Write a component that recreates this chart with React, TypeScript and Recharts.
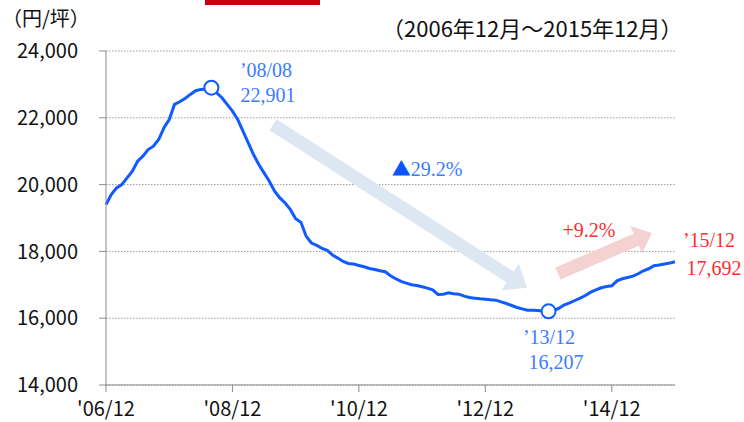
import { CartesianGrid, Line, LineChart, ReferenceDot, ReferenceLine, XAxis, YAxis } from 'recharts';

// monthly average price (yen / tsubo), 2006/12 .. 2015/12
const prices = [
  19400, 19700, 19900, 20000, 20200, 20400, 20700, 20850, 21050, 21150, 21350, 21700,
  21950, 22400, 22480, 22580, 22700, 22810, 22850, 22860, 22901, 22750, 22600, 22400,
  22200, 21950, 21600, 21250, 20900, 20600, 20350, 20100, 19800, 19600, 19450, 19250,
  18980, 18870, 18450, 18250, 18180, 18090, 18030, 17890, 17800, 17700, 17640, 17620,
  17580, 17540, 17490, 17460, 17420, 17390, 17270, 17180, 17100, 17050, 17000, 16980,
  16940, 16900, 16850, 16710, 16720, 16760, 16730, 16720, 16660, 16620, 16600, 16580,
  16570, 16550, 16540, 16490, 16440, 16380, 16320, 16280, 16240, 16240, 16230, 16210,
  16207, 16230, 16300, 16400, 16460, 16530, 16600, 16680, 16780, 16850, 16910, 16950,
  16970, 17120, 17180, 17220, 17260, 17330, 17420, 17480, 17570, 17590, 17620, 17650,
  17692,
];

const xTicks = [0, 24, 48, 72, 96];
const xTickLabels = ["'06/12", "'08/12", "'10/12", "'12/12", "'14/12"];
const yTicks = [14000, 16000, 18000, 20000, 22000, 24000];

const peakIdx = 20;
const troughIdx = 84;

// arrow annotations [month index, value]
const downArrow = [[31.7, 21790], [79.9, 16910]];
const upArrow = [[85.8, 17340], [103.6, 18550]];

const data = prices.map((v, i) => ({ m: i, v }));

const fmt = (n: number) => String(n).replace(/\B(?=(\d{3})+(?!\d))/g, ',');

const gothic = '"Noto Sans CJK JP", "Noto Sans", sans-serif';
const serif = '"Liberation Serif", "DejaVu Serif", serif';
const blueText = '#3b7cff';
const redText = '#ff2d2d';

function arrowShape(fill: string, shaft: number, headW: number, headL: number) {
  return (p: any) => {
    const { x1, y1, x2, y2 } = p;
    const dx = x2 - x1;
    const dy = y2 - y1;
    const len = Math.sqrt(dx * dx + dy * dy);
    const ux = dx / len;
    const uy = dy / len;
    const nx = -uy;
    const ny = ux;
    const bx = x2 - ux * headL;
    const by = y2 - uy * headL;
    const pts = [
      [x1 + nx * shaft / 2, y1 + ny * shaft / 2],
      [bx + nx * shaft / 2, by + ny * shaft / 2],
      [bx + nx * headW / 2, by + ny * headW / 2],
      [x2, y2],
      [bx - nx * headW / 2, by - ny * headW / 2],
      [bx - nx * shaft / 2, by - ny * shaft / 2],
      [x1 - nx * shaft / 2, y1 - ny * shaft / 2],
    ];
    return <polygon points={pts.map((q) => q.join(',')).join(' ')} fill={fill} />;
  };
}

function Note({ x, y, color, children }: { x: number; y: number; color: string; children: any }) {
  return (
    <div
      style={{
        position: 'absolute',
        left: x,
        top: y,
        transform: 'translate(-50%, -50%)',
        color,
        fontFamily: serif,
        fontSize: 20,
        lineHeight: 1,
        whiteSpace: 'nowrap',
      }}
    >
      {children}
    </div>
  );
}

export default function App() {
  return (
    <div style={{ position: 'absolute', left: 0, top: 0, width: 744, height: 422, background: '#fff' }}>
      <LineChart width={744} height={422} data={data} margin={{ top: 51, right: 69, bottom: 7, left: 10 }}>
        <CartesianGrid vertical={false} strokeDasharray="1.5 1.5" stroke="#9a9a9a" />
        <XAxis
          dataKey="m"
          type="number"
          domain={[0, 108]}
          ticks={xTicks}
          tickFormatter={(v: number) => xTickLabels[xTicks.indexOf(v)]}
          tickSize={7}
          tickMargin={10}
          height={30}
          stroke="#8c8c8c"
          tick={{ fill: '#111', fontSize: 20, fontFamily: gothic }}
        />
        <YAxis
          domain={[14000, 24000]}
          ticks={yTicks}
          tickFormatter={fmt}
          tickSize={7}
          tickMargin={21}
          width={96}
          stroke="#8c8c8c"
          tick={{ fill: '#111', fontSize: 20, fontFamily: gothic }}
        />
        <ReferenceLine
          segment={[{ x: downArrow[0][0], y: downArrow[0][1] }, { x: downArrow[1][0], y: downArrow[1][1] }]}
          shape={arrowShape('#dce7f2', 13, 32, 20)}
        />
        <ReferenceLine
          segment={[{ x: upArrow[0][0], y: upArrow[0][1] }, { x: upArrow[1][0], y: upArrow[1][1] }]}
          shape={arrowShape('#f5d2d2', 13, 30, 17)}
        />
        <Line
          dataKey="v"
          type="linear"
          stroke="#0f5bff"
          strokeWidth={3}
          dot={false}
          isAnimationActive={false}
        />
        <ReferenceDot x={peakIdx} y={prices[peakIdx]} r={7} fill="#fff" stroke="#0f5bff" strokeWidth={2} />
        <ReferenceDot x={troughIdx} y={prices[troughIdx]} r={7} fill="#fff" stroke="#0f5bff" strokeWidth={2} />
      </LineChart>

      <div style={{ position: 'absolute', left: 205, top: 0, width: 115, height: 5, background: '#c8000b' }} />
      <div style={{ position: 'absolute', left: 2, top: 6, fontFamily: gothic, fontSize: 20, color: '#111', lineHeight: 1.2 }}>
        （円/坪）
      </div>
      <div style={{ position: 'absolute', left: 382, top: 14, fontFamily: gothic, fontSize: 22, color: '#111', lineHeight: 1.2, whiteSpace: 'nowrap' }}>
        （2006年12月～2015年12月）
      </div>

      <Note x={266} y={70} color={blueText}>’08/08</Note>
      <Note x={268} y={95} color={blueText}>{fmt(prices[peakIdx])}</Note>
      <Note x={427} y={168} color={blueText}>
        <span style={{ fontFamily: gothic, fontSize: 19, color: '#0a55ff' }}>▲</span>29.2%
      </Note>
      <Note x={549} y={337} color={blueText}>’13/12</Note>
      <Note x={556} y={362} color={blueText}>{fmt(prices[troughIdx])}</Note>
      <Note x={589} y={230} color={redText}>+9.2%</Note>
      <Note x={709} y={240} color={redText}>’15/12</Note>
      <Note x={714} y={268} color={redText}>{fmt(prices[prices.length - 1])}</Note>
    </div>
  );
}
